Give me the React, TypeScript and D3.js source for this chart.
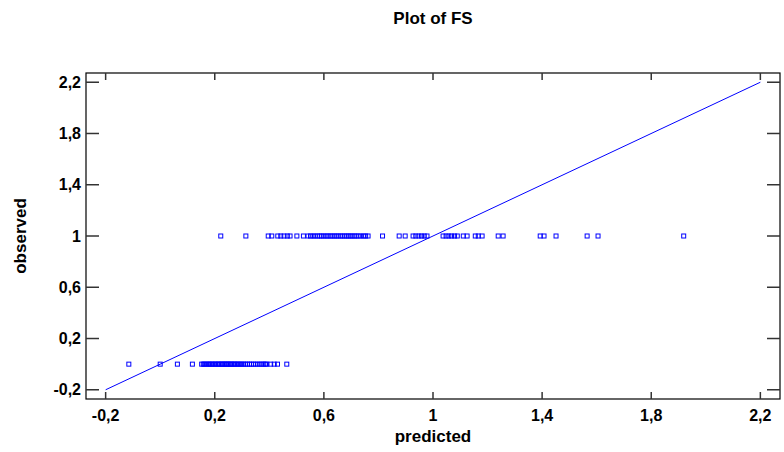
import React from "react";
import * as d3 from "d3";

const title = "Plot of FS";
const xLabel = "predicted";
const yLabel = "observed";
const tickValues = [-0.2, 0.2, 0.6, 1.0, 1.4, 1.8, 2.2];
const tickLabels = ["-0,2", "0,2", "0,6", "1", "1,4", "1,8", "2,2"];
const xDomain = [-0.272, 2.272];
const yDomain = [-0.272, 2.272];
const diagonal = [-0.2, 2.2];

// predicted values for observed = 0
const predictedObs0 = [
  -0.115, 0.0, 0.063, 0.118, 0.152, 0.158, 0.163, 0.17, 0.176, 0.181, 0.187, 0.192, 0.198,
  0.203, 0.209, 0.214, 0.219, 0.224, 0.229, 0.234, 0.238, 0.243, 0.248, 0.252, 0.257, 0.262,
  0.267, 0.272, 0.277, 0.283, 0.288, 0.294, 0.3, 0.306, 0.313, 0.32, 0.327, 0.334, 0.342,
  0.35, 0.358, 0.366, 0.373, 0.38, 0.386, 0.391, 0.405, 0.418, 0.43, 0.464,
];
// predicted values for observed = 1
const predictedObs1 = [
  0.222, 0.314, 0.396, 0.409, 0.431, 0.442, 0.454, 0.466, 0.476, 0.501, 0.525, 0.542, 0.551,
  0.56, 0.568, 0.577, 0.585, 0.592, 0.6, 0.608, 0.615, 0.623, 0.63, 0.638, 0.645, 0.652, 0.66,
  0.667, 0.675, 0.682, 0.689, 0.696, 0.703, 0.711, 0.718, 0.726, 0.735, 0.745, 0.753, 0.762,
  0.815, 0.876, 0.898, 0.927, 0.937, 0.948, 0.958, 0.968, 0.978, 1.037, 1.048, 1.058, 1.068,
  1.079, 1.089, 1.111, 1.125, 1.155, 1.166, 1.18, 1.239, 1.257, 1.393, 1.407, 1.451, 1.565,
  1.605, 1.919,
];

const W = 784;
const H = 452;
const L = 86, R = 780, T = 73, B = 399;
const BLUE = "#0000ff";
const FONT = "'Liberation Sans', Arial, sans-serif";

export default function App() {
  const x = d3.scaleLinear().domain(xDomain).range([L, R]);
  const y = d3.scaleLinear().domain(yDomain).range([B, T]);
  const line = d3.line<number>().x((d) => x(d)).y((d) => y(d));
  const points = [
    ...predictedObs0.map((p) => ({ p, o: 0 })),
    ...predictedObs1.map((p) => ({ p, o: 1 })),
  ];
  const fs = 16;
  return (
    <div style={{ position: "absolute", left: 0, top: 0 }}>
      <svg width={W} height={H} style={{ display: "block", background: "#fff" }}>
        <text x={(L + R) / 2} y={24} textAnchor="middle" fontFamily={FONT} fontWeight="bold" fontSize={17}>
          {title}
        </text>
        <rect x={L} y={T} width={R - L} height={B - T} fill="none" stroke="#000" strokeWidth={1.2} />
        {tickValues.map((v, i) => (
          <g key={"t" + i}>
            <line x1={x(v)} x2={x(v)} y1={B} y2={B - 7} stroke="#333" strokeWidth={1.5} />
            <line x1={x(v)} x2={x(v)} y1={T} y2={T + 7} stroke="#333" strokeWidth={1.5} />
            <line x1={L} x2={L + 13} y1={y(v)} y2={y(v)} stroke="#333" strokeWidth={1.5} />
            <line x1={R} x2={R - 13} y1={y(v)} y2={y(v)} stroke="#333" strokeWidth={1.5} />
            <text x={x(v)} y={421} textAnchor="middle" fontFamily={FONT} fontWeight="bold" fontSize={fs}>
              {tickLabels[i]}
            </text>
            <text x={81} y={y(v) + 5.5} textAnchor="end" fontFamily={FONT} fontWeight="bold" fontSize={fs}>
              {tickLabels[i]}
            </text>
          </g>
        ))}
        <path d={line(diagonal) || ""} stroke={BLUE} strokeWidth={1} fill="none" />
        {points.map((d, i) => (
          <rect key={"p" + i} x={x(d.p) - 2} y={y(d.o) - 2} width={4} height={4} fill="none" stroke={BLUE} strokeWidth={1} />
        ))}
        <text x={(L + R) / 2} y={442} textAnchor="middle" fontFamily={FONT} fontWeight="bold" fontSize={17}>
          {xLabel}
        </text>
        <text transform={`translate(26,${(T + B) / 2}) rotate(-90)`} textAnchor="middle" fontFamily={FONT} fontWeight="bold" fontSize={17}>
          {yLabel}
        </text>
      </svg>
    </div>
  );
}
